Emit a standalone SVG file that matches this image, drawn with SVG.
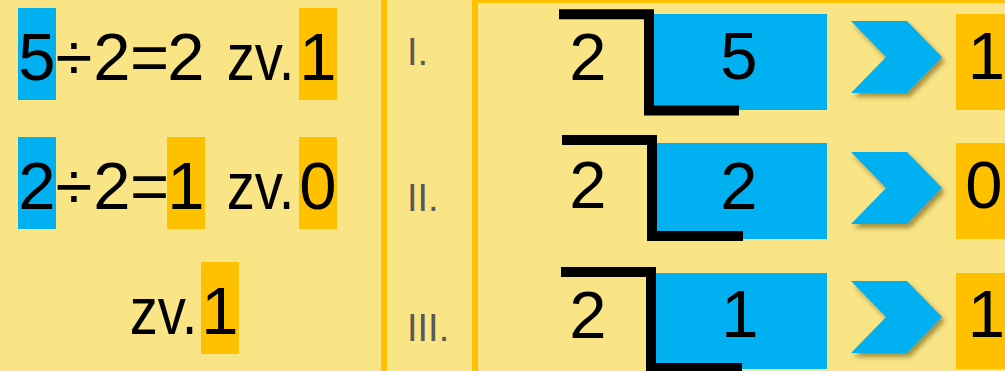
<svg xmlns="http://www.w3.org/2000/svg" width="1005" height="371" viewBox="0 0 1005 371">
  <defs>
    <style>
      .bg { fill: #FAE586; }
      .blue { fill: #00B0F0; }
      .orange { fill: #FFC000; }
      .t { font-family: "Liberation Sans", Arial, sans-serif; font-size: 67px; fill: #000; text-anchor: middle; }
      .roman { font-family: "Liberation Sans", Arial, sans-serif; font-size: 38px; fill: #595959; }
      .bracket { fill: none; stroke: #000; stroke-width: 10; stroke-linejoin: miter; stroke-linecap: butt; }
      .chev { fill: #00B0F0; filter: url(#shadow); }
    </style>
    <filter id="shadow" x="-20%" y="-20%" width="150%" height="150%">
      <feDropShadow dx="3" dy="4" stdDeviation="2.5" flood-color="#5a4a00" flood-opacity="0.55"/>
    </filter>
  </defs>

  <rect class="bg" x="0" y="0" width="1005" height="371"/>

  <!-- frame lines -->
  <g id="frame">
    <rect class="orange" x="381" y="0" width="6" height="371"/>
    <rect x="475" y="0" width="560" height="400" fill="none" stroke="#FFC000" stroke-width="6"/>
  </g>

  <!-- left equations -->
  <g id="eq1">
    <rect class="blue" x="18" y="8" width="38" height="92"/>
    <rect class="orange" x="299" y="8" width="38" height="92"/>
    <text class="t" x="37" y="80">5</text>
    <text class="t" x="74" y="80">÷</text>
    <text class="t" x="112" y="80">2</text>
    <text class="t" x="149.5" y="80">=</text>
    <text class="t" x="186" y="80">2</text>
    <text class="t" transform="translate(260.5,80) scale(0.84,1)">zv.</text>
    <text class="t" x="318" y="80">1</text>
  </g>
  <g id="eq2">
    <rect class="blue" x="18" y="137" width="38" height="92"/>
    <rect class="orange" x="167" y="137" width="38" height="92"/>
    <rect class="orange" x="299" y="137" width="38" height="92"/>
    <text class="t" x="37" y="209">2</text>
    <text class="t" x="74" y="209">÷</text>
    <text class="t" x="112" y="209">2</text>
    <text class="t" x="149.5" y="209">=</text>
    <text class="t" x="186" y="209">1</text>
    <text class="t" transform="translate(260.5,209) scale(0.84,1)">zv.</text>
    <text class="t" x="318" y="209">0</text>
  </g>
  <g id="eq3">
    <rect class="orange" x="201" y="262" width="38" height="92"/>
    <text class="t" transform="translate(163.5,334) scale(0.84,1)">zv.</text>
    <text class="t" x="220" y="334">1</text>
  </g>

  <!-- roman numerals -->
  <g id="roman">
    <text class="roman" x="407" y="65">I.</text>
    <text class="roman" x="407" y="211">II.</text>
    <text class="roman" x="407" y="341">III.</text>
  </g>

  <!-- division rows -->
  <g id="row1">
    <rect class="blue" x="654" y="14" width="173" height="96"/>
    <path class="bracket" d="M559,14.3 H649 V110.5 H739"/>
    <text class="t" x="588" y="80">2</text>
    <text class="t" x="739" y="79">5</text>
    <rect class="orange" x="956" y="14" width="60" height="96"/>
    <text class="t" x="986.5" y="79">1</text>
  </g>
  <g id="row2">
    <rect class="blue" x="657" y="143" width="170" height="96"/>
    <path class="bracket" d="M562,140 H652 V236 H743"/>
    <text class="t" x="588" y="208">2</text>
    <text class="t" x="739" y="209">2</text>
    <rect class="orange" x="956" y="143" width="60" height="96"/>
    <text class="t" x="984" y="208">0</text>
  </g>
  <g id="row3">
    <rect class="blue" x="656" y="273" width="171" height="96"/>
    <path class="bracket" d="M561,272 H651 V368 H742"/>
    <text class="t" x="588" y="338">2</text>
    <text class="t" x="740" y="337">1</text>
    <rect class="orange" x="956" y="273" width="60" height="96"/>
    <text class="t" x="986.5" y="337">1</text>
  </g>

  <!-- chevron arrows -->
  <g id="connectors">
    <polygon class="chev" points="851,21 907,21 942,57 907,93 851,93 886,57"/>
    <polygon class="chev" points="851,152 907,152 942,188 907,224 851,224 886,188"/>
    <polygon class="chev" points="851,281 907,281 942,317 907,353 851,353 886,317"/>
  </g>
</svg>
